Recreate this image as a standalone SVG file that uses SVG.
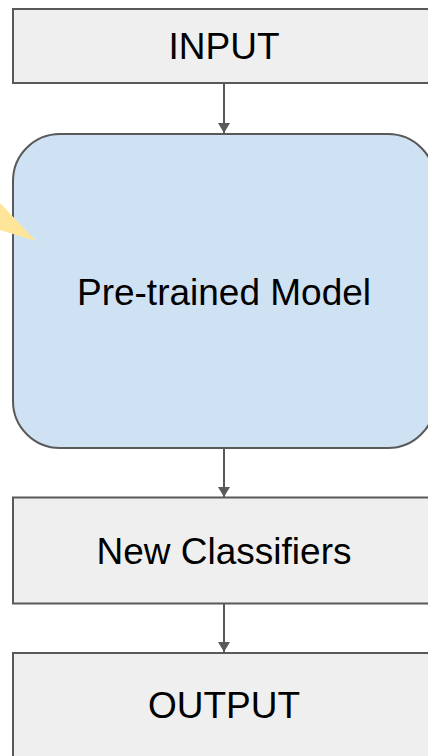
<svg xmlns="http://www.w3.org/2000/svg" width="428" height="756" viewBox="0 0 428 756">
  <defs>
    <style>
      .box { fill: #efefef; stroke: #595959; stroke-width: 2; }
      .model { fill: #cfe2f3; stroke: #595959; stroke-width: 2; }
      .label { font-family: "Liberation Sans", Arial, sans-serif; font-size: 37px; fill: #000000; text-anchor: middle; }
      .wire { stroke: #595959; stroke-width: 2; fill: none; }
    </style>
    <marker id="head" viewBox="0 0 10 12" refX="10" refY="6" markerWidth="10" markerHeight="12" markerUnits="userSpaceOnUse" orient="auto">
      <path d="M0,0 L10,6 L0,12 Z" fill="#595959"/>
    </marker>
  </defs>
  <rect width="428" height="756" fill="#ffffff"/>

  <g id="input">
    <rect class="box" x="13" y="9" width="422" height="74"/>
    <text class="label" x="224" y="59">INPUT</text>
  </g>

  <g id="pretrained-model">
    <rect class="model" x="13" y="134" width="422" height="314" rx="47" ry="47"/>
    <text class="label" x="224" y="305">Pre-trained Model</text>
  </g>

  <!-- callout tail pointing into the model box -->
  <g id="callout-tail">
    <polygon points="0,203 36,241 0,230" fill="#ffe599"/>
  </g>

  <g id="new-classifiers">
    <rect class="box" x="13" y="497.5" width="422" height="106"/>
    <text class="label" x="224" y="564">New Classifiers</text>
  </g>

  <g id="output">
    <rect class="box" x="13" y="653" width="422" height="120"/>
    <text class="label" x="224" y="718">OUTPUT</text>
  </g>

  <g id="connectors">
    <line class="wire" x1="224" y1="84" x2="224" y2="133" marker-end="url(#head)"/>
    <line class="wire" x1="224" y1="449" x2="224" y2="497" marker-end="url(#head)"/>
    <line class="wire" x1="224" y1="604" x2="224" y2="652" marker-end="url(#head)"/>
  </g>
</svg>
